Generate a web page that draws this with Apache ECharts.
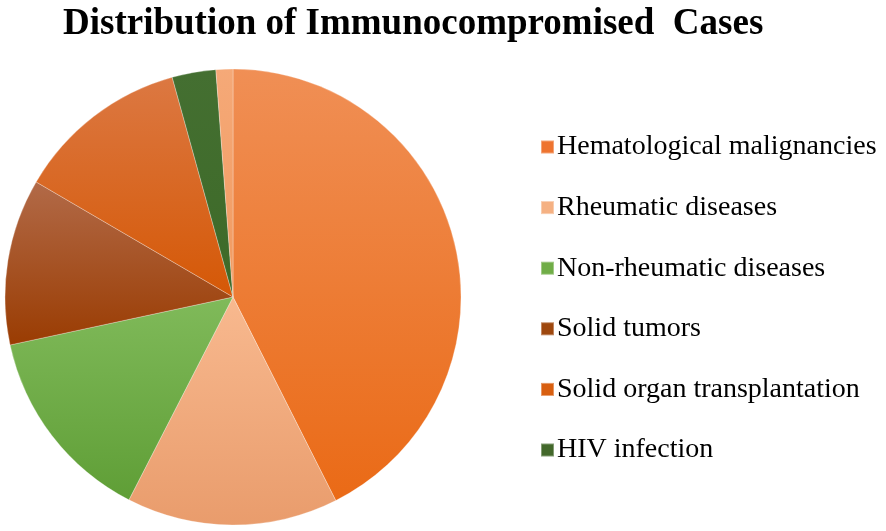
<!DOCTYPE html>
<html>
<head>
<meta charset="utf-8">
<script src="https://cdn.jsdelivr.net/npm/echarts@6/dist/echarts.min.js"></script>
<style>
  html, body { margin: 0; padding: 0; background: #fff; }
  #chart { width: 886px; height: 531px; }
</style>
</head>
<body>
<div id="chart"></div>
<script>
// slice order, clockwise from 12 o'clock
var categories = ['Hematological malignancies', 'Rheumatic diseases', 'Non-rheumatic diseases',
  'Solid tumors', 'Solid organ transplantation', 'HIV infection', 'Other'];
var shares = [42.6, 15.0, 14.1, 11.8, 12.3, 3.1, 1.2];
var legendNames = categories.slice(0, 6);

var topColors = ['#F08F55', '#F8B98F', '#80BA5A', '#B26A48', '#DC7842', '#446F31', '#F5A978'];
var bottomColors = ['#EA6A16', '#E99C6C', '#5F9E36', '#9A3C02', '#D55806', '#3D6A28', '#F19A5F'];
var legendColors = ['#EE7430', '#F5B183', '#70AD47', '#9E480E', '#D85F10', '#43682B'];

var chartDom = document.getElementById('chart');
var myChart = echarts.init(chartDom);
var option;

var data_chart = [];
categories.map(function (c, i) {
  data_chart.push({
    name: c,
    value: shares[i],
    itemStyle: {
      color: new echarts.graphic.LinearGradient(0, 0, 0, 1, [
        { offset: 0, color: topColors[i] },
        { offset: 1, color: bottomColors[i] }
      ])
    }
  });
});

option = {
  animation: false,
  title: {
    text: 'Distribution of Immunocompromised  Cases',
    left: 58,
    top: 1,
    textStyle: {
      fontFamily: 'Liberation Serif',
      fontWeight: 'bold',
      fontSize: 37,
      color: '#000'
    }
  },
  legend: {
    orient: 'vertical',
    left: 535,
    top: 128,
    itemWidth: 13,
    itemHeight: 13,
    itemGap: 32.6,
    icon: 'rect',
    data: legendNames.map(function (n, i) {
      return { name: n, itemStyle: { color: legendColors[i] } };
    }),
    textStyle: {
      fontFamily: 'Liberation Serif',
      fontSize: 28,
      color: '#000',
      padding: [0, 0, 0, -2]
    }
  },
  series: [
    {
      name: 'Cases',
      type: 'pie',
      center: [233, 297],
      radius: [0, 228],
      startAngle: 90,
      clockwise: true,
      label: { show: false },
      labelLine: { show: false },
      itemStyle: {
        borderColor: 'rgba(255,255,255,0.35)',
        borderWidth: 0.8
      },
      emphasis: { disabled: true },
      data: data_chart
    }
  ]
};

option && myChart.setOption(option);
</script>
</body>
</html>
